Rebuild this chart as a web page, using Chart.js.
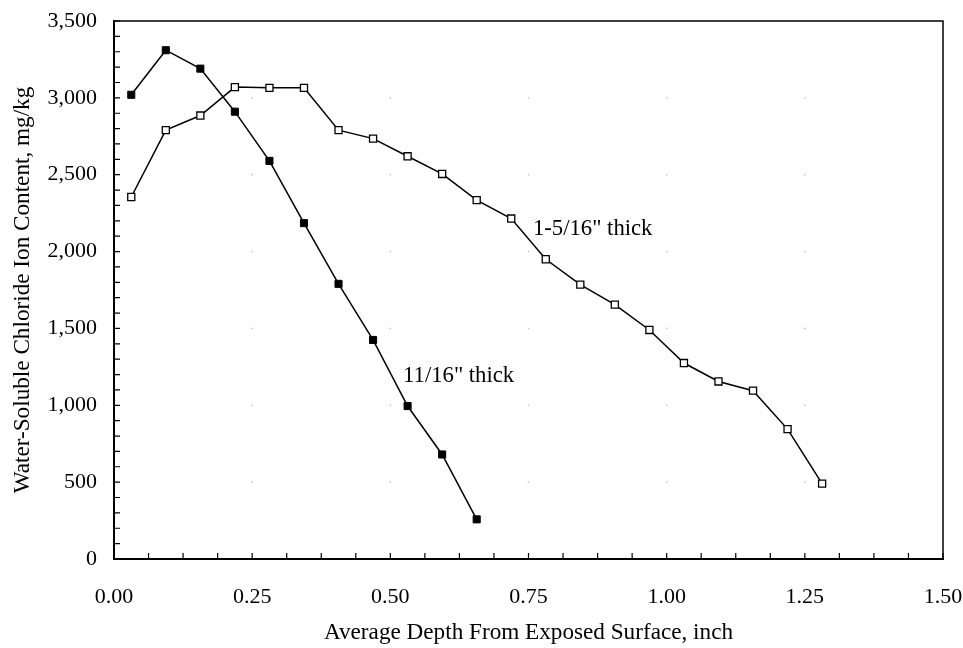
<!DOCTYPE html>
<html>
<head>
<meta charset="utf-8">
<script src="https://cdn.jsdelivr.net/npm/chart.js@4.4.0/dist/chart.umd.min.js"></script>
<style>
  html, body { margin: 0; padding: 0; background: #fff; }
  #wrap { width: 963px; height: 648px; }
</style>
</head>
<body>
<div id="wrap"><canvas id="chloride" width="963" height="648"></canvas></div>
<script>
// mid-depth of each 1/16" slice, inch
const depthThin = [0.03125, 0.09375, 0.15625, 0.21875, 0.28125, 0.34375, 0.40625, 0.46875, 0.53125, 0.59375, 0.65625];
const chlorideThin = [3020, 3310, 3190, 2910, 2590, 2185, 1790, 1425, 995, 680, 258];

const depthThick = [0.03125, 0.09375, 0.15625, 0.21875, 0.28125, 0.34375, 0.40625, 0.46875, 0.53125, 0.59375, 0.65625,
  0.71875, 0.78125, 0.84375, 0.90625, 0.96875, 1.03125, 1.09375, 1.15625, 1.21875, 1.28125];
const chlorideThick = [2355, 2790, 2885, 3070, 3065, 3065, 2790, 2735, 2620, 2505, 2335,
  2215, 1950, 1785, 1655, 1490, 1275, 1155, 1095, 845, 490];

// text placed next to each curve (data coordinates)
const curveLabels = [
  { text: '1-5/16" thick', x: 0.758, y: 2147 },
  { text: '11/16" thick', x: 0.523, y: 1191 }
];

const serif = '"Liberation Serif", "Times New Roman", serif';

const toPoints = (xs, ys) => xs.map((x, i) => ({ x: x, y: ys[i] }));
const isMajorX = (v) => Math.abs(v * 4 - Math.round(v * 4)) < 1e-9;
const isMajorY = (v) => v % 500 === 0;

const frameAndTicks = {
  id: "frameAndTicks",
  beforeDatasetsDraw(chart) {
    const { ctx, chartArea: a, scales: { x, y } } = chart;
    ctx.save();

    // faint specks where the major grid lines would cross
    ctx.fillStyle = "#c4c4c4";
    x.ticks.forEach((tx) => {
      if (!isMajorX(tx.value) || tx.value === x.min || tx.value === x.max) return;
      y.ticks.forEach((ty) => {
        if (!isMajorY(ty.value) || ty.value === y.min || ty.value === y.max) return;
        ctx.fillRect(x.getPixelForValue(tx.value) - 0.75, y.getPixelForValue(ty.value) - 0.75, 1.5, 1.5);
      });
    });

    // tick marks point into the plot
    ctx.strokeStyle = "#000";
    ctx.lineWidth = 1.2;
    ctx.beginPath();
    x.ticks.forEach((t) => {
      const px = x.getPixelForValue(t.value);
      ctx.moveTo(px, a.bottom);
      ctx.lineTo(px, a.bottom - 6);
    });
    y.ticks.forEach((t) => {
      const py = y.getPixelForValue(t.value);
      ctx.moveTo(a.left, py);
      ctx.lineTo(a.left + 6, py);
    });
    ctx.stroke();

    ctx.lineWidth = 1.5;
    ctx.strokeRect(a.left, a.top, a.right - a.left, a.bottom - a.top);
    ctx.restore();
  },
  afterDatasetsDraw(chart) {
    const { ctx, scales: { x, y } } = chart;
    ctx.save();
    ctx.font = "22.7px " + serif;
    ctx.fillStyle = "#000";
    ctx.textAlign = "left";
    ctx.textBaseline = "middle";
    curveLabels.forEach((l) => {
      ctx.fillText(l.text, x.getPixelForValue(l.x), y.getPixelForValue(l.y));
    });
    ctx.restore();
  }
};

new Chart(document.getElementById("chloride").getContext("2d"), {
  type: "line",
  data: {
    datasets: [
      {
        label: '1-5/16" thick',
        data: toPoints(depthThick, chlorideThick),
        borderColor: "#000",
        borderWidth: 1.5,
        pointStyle: "rect",
        pointRadius: 5,
        pointBorderWidth: 1.3,
        pointBorderColor: "#000",
        pointBackgroundColor: "#fff"
      },
      {
        label: '11/16" thick',
        data: toPoints(depthThin, chlorideThin),
        borderColor: "#000",
        borderWidth: 1.5,
        pointStyle: "rect",
        pointRadius: 5,
        pointBorderWidth: 1,
        pointBorderColor: "#000",
        pointBackgroundColor: "#000"
      }
    ]
  },
  options: {
    responsive: false,
    animation: false,
    events: [],
    layout: { padding: { top: 21, right: 20, left: 0, bottom: 0 } },
    plugins: {
      legend: { display: false },
      tooltip: { enabled: false }
    },
    scales: {
      x: {
        type: "linear",
        min: 0,
        max: 1.5,
        grid: { display: false, drawTicks: false },
        border: { display: true, color: "#000", width: 2 },
        ticks: {
          stepSize: 0.0625,
          autoSkip: false,
          maxRotation: 0,
          padding: 25,
          color: "#000",
          font: { family: serif, size: 22 },
          callback: (v) => (isMajorX(v) ? v.toFixed(2) : "")
        },
        title: {
          display: true,
          text: "Average Depth From Exposed Surface, inch",
          color: "#000",
          font: { family: serif, size: 23.2 },
          padding: { top: 0, bottom: 1 }
        },
        afterFit: (scale) => {
          scale.height = 89;
          scale.paddingLeft = 0;
          scale.paddingRight = 0;
        }
      },
      y: {
        type: "linear",
        min: 0,
        max: 3500,
        grid: { display: false, drawTicks: false },
        border: { display: true, color: "#000", width: 2 },
        ticks: {
          stepSize: 100,
          autoSkip: false,
          padding: 17,
          color: "#000",
          font: { family: serif, size: 22 },
          callback: (v) => (isMajorY(v) ? v.toLocaleString("en-US") : "")
        },
        title: {
          display: true,
          text: "Water-Soluble Chloride Ion Content, mg/kg",
          color: "#000",
          font: { family: serif, size: 23.2 },
          padding: { top: 9, bottom: 0 }
        },
        afterFit: (scale) => {
          scale.width = 114;
          scale.paddingTop = 0;
          scale.paddingBottom = 0;
        }
      }
    }
  },
  plugins: [frameAndTicks]
});
</script>
</body>
</html>
